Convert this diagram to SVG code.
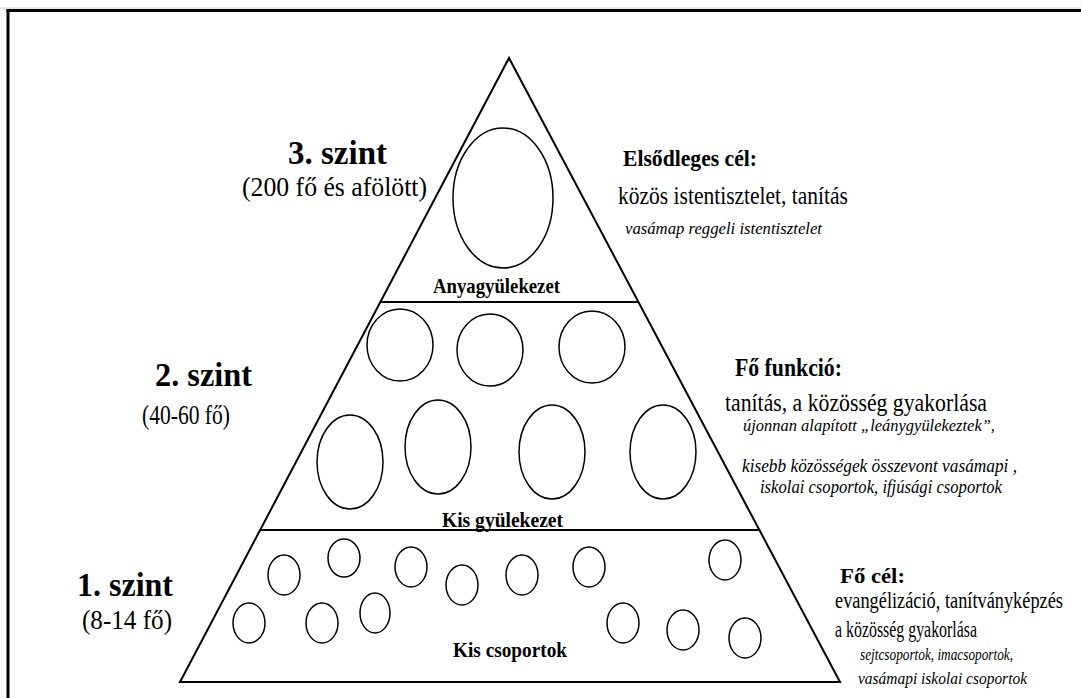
<svg xmlns="http://www.w3.org/2000/svg" width="1081" height="698" viewBox="0 0 1081 698">
<style>
.t{font-family:"Liberation Serif","Times New Roman",serif;fill:#000}
.b{font-weight:bold}
.i{font-style:italic}
.e{fill:none;stroke:#000;stroke-width:1.5}
.ln{stroke:#000;stroke-width:2;fill:none}
</style>
<rect width="1081" height="698" fill="#fff"/>
<g id="frame">
<line x1="0" y1="8" x2="1081" y2="8" stroke="#ccc" stroke-width="1"/>
<line x1="6.5" y1="10.5" x2="1081" y2="10.5" stroke="#000" stroke-width="3"/>
<line x1="8" y1="9" x2="8" y2="698" stroke="#000" stroke-width="3"/>
</g>
<g id="connectors">
<polygon class="ln" points="509,58 840,682 180,682"/>
<line class="ln" x1="380" y1="302" x2="639" y2="302"/>
<line class="ln" x1="260" y1="530" x2="759" y2="530"/>
</g>
<g id="level3">
<ellipse class="e" cx="503" cy="198" rx="50" ry="70"/>
<text class="t b" x="433" y="293" font-size="22" textLength="127" lengthAdjust="spacingAndGlyphs">Anyagyülekezet</text>
<text class="t b" x="288" y="164" font-size="34" textLength="99" lengthAdjust="spacingAndGlyphs">3. szint</text>
<text class="t" x="242" y="196" font-size="28" textLength="185" lengthAdjust="spacingAndGlyphs">(200 fő és afölött)</text>
<text class="t b" x="623" y="166" font-size="23" textLength="134" lengthAdjust="spacingAndGlyphs">Elsődleges cél:</text>
<text class="t" x="618" y="204" font-size="26" textLength="230" lengthAdjust="spacingAndGlyphs">közös istentisztelet, tanítás</text>
<text class="t i" x="625" y="234" font-size="17" textLength="197" lengthAdjust="spacingAndGlyphs">vasámap reggeli istentisztelet</text>
</g>
<g id="level2">
<ellipse class="e" cx="400" cy="345" rx="33" ry="36"/>
<ellipse class="e" cx="490" cy="350" rx="33" ry="36"/>
<ellipse class="e" cx="592" cy="347" rx="33" ry="36"/>
<ellipse class="e" cx="350" cy="462" rx="33" ry="47"/>
<ellipse class="e" cx="438" cy="447" rx="33" ry="47"/>
<ellipse class="e" cx="552" cy="452" rx="33" ry="47"/>
<ellipse class="e" cx="663" cy="452" rx="33" ry="47"/>
<text class="t b" x="442" y="527" font-size="22" textLength="121" lengthAdjust="spacingAndGlyphs">Kis gyülekezet</text>
<text class="t b" x="155" y="386" font-size="34" textLength="97" lengthAdjust="spacingAndGlyphs">2. szint</text>
<text class="t" x="142" y="424" font-size="28" textLength="88" lengthAdjust="spacingAndGlyphs">(40-60 fő)</text>
<text class="t b" x="735" y="376" font-size="25" textLength="107" lengthAdjust="spacingAndGlyphs">Fő funkció:</text>
<text class="t" x="725" y="411" font-size="25" textLength="262" lengthAdjust="spacingAndGlyphs">tanítás, a közösség gyakorlása</text>
<text class="t i" x="743" y="431" font-size="17" textLength="252" lengthAdjust="spacingAndGlyphs">újonnan alapított „leánygyülekeztek”,</text>
<text class="t i" x="742" y="472" font-size="18" textLength="275" lengthAdjust="spacingAndGlyphs">kisebb közösségek összevont vasámapi ,</text>
<text class="t i" x="760" y="493" font-size="18" textLength="242" lengthAdjust="spacingAndGlyphs">iskolai csoportok, ifjúsági csoportok</text>
</g>
<g id="level1">
<ellipse class="e" cx="284" cy="575" rx="16" ry="20"/>
<ellipse class="e" cx="344" cy="558" rx="16" ry="19"/>
<ellipse class="e" cx="411" cy="567" rx="16" ry="20"/>
<ellipse class="e" cx="462" cy="585" rx="16" ry="20"/>
<ellipse class="e" cx="522" cy="575" rx="16" ry="20"/>
<ellipse class="e" cx="589" cy="567" rx="16" ry="20"/>
<ellipse class="e" cx="725" cy="560" rx="16" ry="20"/>
<ellipse class="e" cx="249" cy="623" rx="16" ry="20"/>
<ellipse class="e" cx="322" cy="623" rx="16" ry="20"/>
<ellipse class="e" cx="375" cy="613" rx="15" ry="20"/>
<ellipse class="e" cx="623" cy="623" rx="16" ry="20"/>
<ellipse class="e" cx="683" cy="630" rx="16" ry="20"/>
<ellipse class="e" cx="745" cy="638" rx="16" ry="20"/>
<text class="t b" x="453" y="657" font-size="22" textLength="114" lengthAdjust="spacingAndGlyphs">Kis csoportok</text>
<text class="t b" x="77" y="596" font-size="34" textLength="96" lengthAdjust="spacingAndGlyphs">1. szint</text>
<text class="t" x="82" y="629" font-size="28" textLength="90" lengthAdjust="spacingAndGlyphs">(8-14 fő)</text>
<text class="t b" x="840" y="583" font-size="22" textLength="65" lengthAdjust="spacingAndGlyphs">Fő cél:</text>
<text class="t" x="835" y="608" font-size="24" textLength="228" lengthAdjust="spacingAndGlyphs">evangélizáció, tanítványképzés</text>
<text class="t" x="835" y="637" font-size="24" textLength="142" lengthAdjust="spacingAndGlyphs">a közösség gyakorlása</text>
<text class="t i" x="860" y="660" font-size="17" textLength="153" lengthAdjust="spacingAndGlyphs">sejtcsoportok, imacsoportok,</text>
<text class="t i" x="858" y="684" font-size="17" textLength="169" lengthAdjust="spacingAndGlyphs">vasámapi iskolai csoportok</text>
</g>
</svg>
